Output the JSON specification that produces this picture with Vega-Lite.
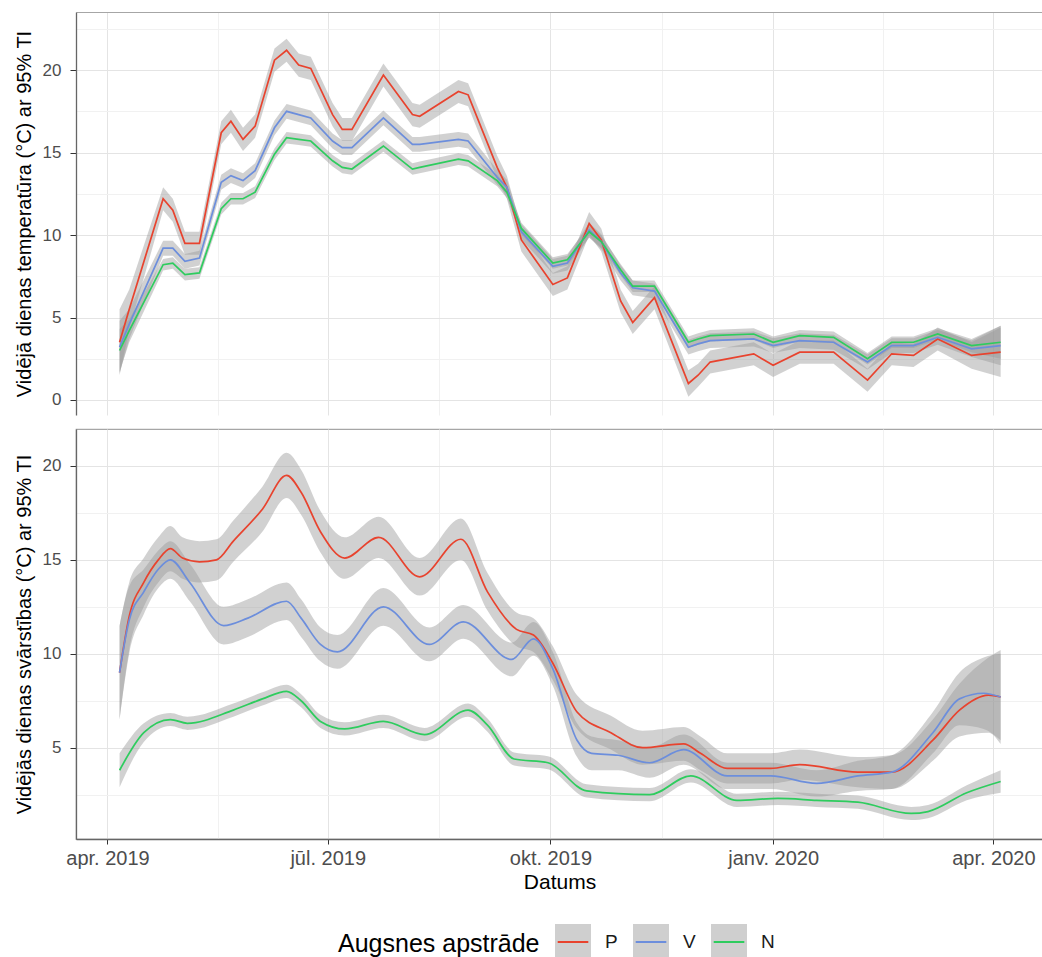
{
  "$schema": "https://vega.github.io/schema/vega-lite/v6.json",
  "padding": {"left": 13, "top": 12, "right": 0, "bottom": 0},
  "background": "white",
  "spacing": 13,
  "config": {
    "font": "Liberation Sans",
    "view": {"stroke": "#a6a6a6", "strokeWidth": 1.2},
    "axis": {"labelFont": "Liberation Sans", "titleFont": "Liberation Sans", "labelColor": "#4d4d4d", "titleColor": "#000000", "titleFontWeight": "normal", "tickColor": "#333333", "domainColor": "#666666", "domainWidth": 1.3},
    "axisY": {"labelFontSize": 17, "titleFontSize": 20, "tickSize": 6, "labelPadding": 9, "titlePadding": 8},
    "axisX": {"labelFontSize": 20, "titleFontSize": 21, "tickSize": 5, "labelPadding": 4, "titlePadding": 3},
    "legend": {
      "direction": "horizontal", "titleOrient": "left",
      "titleFont": "Liberation Sans", "titleFontSize": 25, "titleFontWeight": "normal", "titleColor": "#000000", "titlePadding": 14, "titleLimit": 500,
      "labelFont": "Liberation Sans", "labelFontSize": 19, "labelColor": "#1a1a1a", "labelOffset": 13,
      "symbolType": "M-0.85,0H0.85H1V-1H-1V1H1V0", "symbolSize": 1296, "symbolFillColor": "#cfcfcf", "symbolStrokeWidth": 2, "symbolDash": [30.6, 400],
      "columnPadding": 11
    }
  },
  "resolve": {"scale": {"color": "shared"}},
  "datasets": {
    "top": [
      {"d":"2019-04-06","g":"P","m":3.5,"lo":1.5,"hi":5.5},
      {"d":"2019-04-10","g":"P","m":5.5,"lo":4.3,"hi":6.7},
      {"d":"2019-04-24","g":"P","m":12.2,"lo":11.5,"hi":12.9},
      {"d":"2019-04-28","g":"P","m":11.5,"lo":10.8,"hi":12.2},
      {"d":"2019-05-03","g":"P","m":9.5,"lo":8.8,"hi":10.2},
      {"d":"2019-05-09","g":"P","m":9.5,"lo":8.8,"hi":10.2},
      {"d":"2019-05-18","g":"P","m":16.2,"lo":15.5,"hi":16.9},
      {"d":"2019-05-22","g":"P","m":16.9,"lo":16.2,"hi":17.6},
      {"d":"2019-05-27","g":"P","m":15.8,"lo":15.1,"hi":16.5},
      {"d":"2019-06-01","g":"P","m":16.6,"lo":15.9,"hi":17.3},
      {"d":"2019-06-09","g":"P","m":20.6,"lo":19.9,"hi":21.3},
      {"d":"2019-06-14","g":"P","m":21.2,"lo":20.5,"hi":21.9},
      {"d":"2019-06-19","g":"P","m":20.3,"lo":19.6,"hi":21.0},
      {"d":"2019-06-24","g":"P","m":20.1,"lo":19.4,"hi":20.8},
      {"d":"2019-07-03","g":"P","m":17.3,"lo":16.6,"hi":18.0},
      {"d":"2019-07-07","g":"P","m":16.4,"lo":15.7,"hi":17.1},
      {"d":"2019-07-11","g":"P","m":16.4,"lo":15.7,"hi":17.1},
      {"d":"2019-07-24","g":"P","m":19.7,"lo":19.0,"hi":20.4},
      {"d":"2019-08-05","g":"P","m":17.3,"lo":16.6,"hi":18.0},
      {"d":"2019-08-08","g":"P","m":17.2,"lo":16.5,"hi":17.9},
      {"d":"2019-08-24","g":"P","m":18.7,"lo":18.0,"hi":19.4},
      {"d":"2019-08-28","g":"P","m":18.5,"lo":17.8,"hi":19.2},
      {"d":"2019-09-09","g":"P","m":14.1,"lo":13.4,"hi":14.8},
      {"d":"2019-09-13","g":"P","m":12.9,"lo":12.2,"hi":13.6},
      {"d":"2019-09-19","g":"P","m":9.7,"lo":9.0,"hi":10.4},
      {"d":"2019-10-02","g":"P","m":7.0,"lo":6.3,"hi":7.7},
      {"d":"2019-10-08","g":"P","m":7.4,"lo":6.7,"hi":8.1},
      {"d":"2019-10-17","g":"P","m":10.7,"lo":10.0,"hi":11.4},
      {"d":"2019-10-22","g":"P","m":9.7,"lo":9.0,"hi":10.4},
      {"d":"2019-10-30","g":"P","m":6.0,"lo":5.3,"hi":6.7},
      {"d":"2019-11-04","g":"P","m":4.7,"lo":4.0,"hi":5.4},
      {"d":"2019-11-13","g":"P","m":6.2,"lo":5.5,"hi":6.9},
      {"d":"2019-11-27","g":"P","m":1.0,"lo":0.2,"hi":1.8},
      {"d":"2019-12-01","g":"P","m":1.5,"lo":0.8,"hi":2.2},
      {"d":"2019-12-06","g":"P","m":2.3,"lo":1.6,"hi":3.0},
      {"d":"2019-12-24","g":"P","m":2.8,"lo":2.1,"hi":3.5},
      {"d":"2020-01-01","g":"P","m":2.1,"lo":1.4,"hi":2.8},
      {"d":"2020-01-12","g":"P","m":2.9,"lo":2.2,"hi":3.6},
      {"d":"2020-01-26","g":"P","m":2.9,"lo":2.2,"hi":3.6},
      {"d":"2020-02-09","g":"P","m":1.2,"lo":0.5,"hi":1.9},
      {"d":"2020-02-19","g":"P","m":2.8,"lo":2.1,"hi":3.5},
      {"d":"2020-02-28","g":"P","m":2.7,"lo":2.0,"hi":3.4},
      {"d":"2020-03-09","g":"P","m":3.7,"lo":3.0,"hi":4.4},
      {"d":"2020-03-23","g":"P","m":2.7,"lo":1.9,"hi":3.5},
      {"d":"2020-04-04","g":"P","m":2.9,"lo":1.4,"hi":4.4},
      {"d":"2019-04-06","g":"V","m":3.2,"lo":1.6,"hi":4.8},
      {"d":"2019-04-10","g":"V","m":4.6,"lo":3.7,"hi":5.5},
      {"d":"2019-04-24","g":"V","m":9.2,"lo":8.75,"hi":9.65},
      {"d":"2019-04-28","g":"V","m":9.2,"lo":8.75,"hi":9.65},
      {"d":"2019-05-03","g":"V","m":8.4,"lo":7.95,"hi":8.85},
      {"d":"2019-05-09","g":"V","m":8.6,"lo":8.15,"hi":9.05},
      {"d":"2019-05-18","g":"V","m":13.2,"lo":12.75,"hi":13.65},
      {"d":"2019-05-22","g":"V","m":13.6,"lo":13.15,"hi":14.05},
      {"d":"2019-05-27","g":"V","m":13.3,"lo":12.85,"hi":13.75},
      {"d":"2019-06-01","g":"V","m":13.9,"lo":13.45,"hi":14.35},
      {"d":"2019-06-09","g":"V","m":16.5,"lo":16.05,"hi":16.95},
      {"d":"2019-06-14","g":"V","m":17.5,"lo":17.05,"hi":17.95},
      {"d":"2019-06-19","g":"V","m":17.3,"lo":16.85,"hi":17.75},
      {"d":"2019-06-24","g":"V","m":17.1,"lo":16.65,"hi":17.55},
      {"d":"2019-07-03","g":"V","m":15.7,"lo":15.25,"hi":16.15},
      {"d":"2019-07-07","g":"V","m":15.3,"lo":14.85,"hi":15.75},
      {"d":"2019-07-11","g":"V","m":15.3,"lo":14.85,"hi":15.75},
      {"d":"2019-07-24","g":"V","m":17.1,"lo":16.65,"hi":17.55},
      {"d":"2019-08-05","g":"V","m":15.5,"lo":15.05,"hi":15.95},
      {"d":"2019-08-08","g":"V","m":15.5,"lo":15.05,"hi":15.95},
      {"d":"2019-08-24","g":"V","m":15.8,"lo":15.35,"hi":16.25},
      {"d":"2019-08-28","g":"V","m":15.7,"lo":15.25,"hi":16.15},
      {"d":"2019-09-09","g":"V","m":13.5,"lo":13.05,"hi":13.95},
      {"d":"2019-09-13","g":"V","m":12.9,"lo":12.45,"hi":13.35},
      {"d":"2019-09-19","g":"V","m":10.2,"lo":9.75,"hi":10.65},
      {"d":"2019-10-02","g":"V","m":8.1,"lo":7.65,"hi":8.55},
      {"d":"2019-10-08","g":"V","m":8.3,"lo":7.85,"hi":8.75},
      {"d":"2019-10-17","g":"V","m":10.3,"lo":9.85,"hi":10.75},
      {"d":"2019-10-22","g":"V","m":9.6,"lo":9.15,"hi":10.05},
      {"d":"2019-10-30","g":"V","m":7.7,"lo":7.25,"hi":8.15},
      {"d":"2019-11-04","g":"V","m":6.8,"lo":6.35,"hi":7.25},
      {"d":"2019-11-13","g":"V","m":6.6,"lo":6.15,"hi":7.05},
      {"d":"2019-11-27","g":"V","m":3.2,"lo":2.75,"hi":3.65},
      {"d":"2019-12-01","g":"V","m":3.4,"lo":2.95,"hi":3.85},
      {"d":"2019-12-06","g":"V","m":3.6,"lo":3.15,"hi":4.05},
      {"d":"2019-12-24","g":"V","m":3.7,"lo":3.25,"hi":4.15},
      {"d":"2020-01-01","g":"V","m":3.3,"lo":2.85,"hi":3.75},
      {"d":"2020-01-12","g":"V","m":3.6,"lo":3.15,"hi":4.05},
      {"d":"2020-01-26","g":"V","m":3.5,"lo":3.05,"hi":3.95},
      {"d":"2020-02-09","g":"V","m":2.3,"lo":1.85,"hi":2.75},
      {"d":"2020-02-19","g":"V","m":3.3,"lo":2.85,"hi":3.75},
      {"d":"2020-02-28","g":"V","m":3.3,"lo":2.85,"hi":3.75},
      {"d":"2020-03-09","g":"V","m":3.8,"lo":3.35,"hi":4.25},
      {"d":"2020-03-23","g":"V","m":3.1,"lo":2.6,"hi":3.6},
      {"d":"2020-04-04","g":"V","m":3.3,"lo":2.1,"hi":4.5},
      {"d":"2019-04-06","g":"N","m":3.0,"lo":1.7,"hi":4.3},
      {"d":"2019-04-10","g":"N","m":4.2,"lo":3.5,"hi":4.9},
      {"d":"2019-04-24","g":"N","m":8.2,"lo":7.85,"hi":8.55},
      {"d":"2019-04-28","g":"N","m":8.3,"lo":7.95,"hi":8.65},
      {"d":"2019-05-03","g":"N","m":7.6,"lo":7.25,"hi":7.95},
      {"d":"2019-05-09","g":"N","m":7.7,"lo":7.35,"hi":8.05},
      {"d":"2019-05-18","g":"N","m":11.6,"lo":11.25,"hi":11.95},
      {"d":"2019-05-22","g":"N","m":12.2,"lo":11.85,"hi":12.55},
      {"d":"2019-05-27","g":"N","m":12.2,"lo":11.85,"hi":12.55},
      {"d":"2019-06-01","g":"N","m":12.6,"lo":12.25,"hi":12.95},
      {"d":"2019-06-09","g":"N","m":14.9,"lo":14.55,"hi":15.25},
      {"d":"2019-06-14","g":"N","m":15.9,"lo":15.55,"hi":16.25},
      {"d":"2019-06-19","g":"N","m":15.8,"lo":15.45,"hi":16.15},
      {"d":"2019-06-24","g":"N","m":15.7,"lo":15.35,"hi":16.05},
      {"d":"2019-07-03","g":"N","m":14.5,"lo":14.15,"hi":14.85},
      {"d":"2019-07-07","g":"N","m":14.1,"lo":13.75,"hi":14.45},
      {"d":"2019-07-11","g":"N","m":14.0,"lo":13.65,"hi":14.35},
      {"d":"2019-07-24","g":"N","m":15.4,"lo":15.05,"hi":15.75},
      {"d":"2019-08-05","g":"N","m":14.0,"lo":13.65,"hi":14.35},
      {"d":"2019-08-08","g":"N","m":14.1,"lo":13.75,"hi":14.45},
      {"d":"2019-08-24","g":"N","m":14.6,"lo":14.25,"hi":14.95},
      {"d":"2019-08-28","g":"N","m":14.5,"lo":14.15,"hi":14.85},
      {"d":"2019-09-09","g":"N","m":13.3,"lo":12.95,"hi":13.65},
      {"d":"2019-09-13","g":"N","m":12.6,"lo":12.25,"hi":12.95},
      {"d":"2019-09-19","g":"N","m":10.4,"lo":10.05,"hi":10.75},
      {"d":"2019-10-02","g":"N","m":8.3,"lo":7.95,"hi":8.65},
      {"d":"2019-10-08","g":"N","m":8.5,"lo":8.15,"hi":8.85},
      {"d":"2019-10-17","g":"N","m":10.2,"lo":9.85,"hi":10.55},
      {"d":"2019-10-22","g":"N","m":9.6,"lo":9.25,"hi":9.95},
      {"d":"2019-10-30","g":"N","m":7.9,"lo":7.55,"hi":8.25},
      {"d":"2019-11-04","g":"N","m":6.9,"lo":6.55,"hi":7.25},
      {"d":"2019-11-13","g":"N","m":6.9,"lo":6.55,"hi":7.25},
      {"d":"2019-11-27","g":"N","m":3.5,"lo":3.15,"hi":3.85},
      {"d":"2019-12-01","g":"N","m":3.7,"lo":3.35,"hi":4.05},
      {"d":"2019-12-06","g":"N","m":3.9,"lo":3.55,"hi":4.25},
      {"d":"2019-12-24","g":"N","m":4.0,"lo":3.65,"hi":4.35},
      {"d":"2020-01-01","g":"N","m":3.5,"lo":3.15,"hi":3.85},
      {"d":"2020-01-12","g":"N","m":3.9,"lo":3.55,"hi":4.25},
      {"d":"2020-01-26","g":"N","m":3.8,"lo":3.45,"hi":4.15},
      {"d":"2020-02-09","g":"N","m":2.5,"lo":2.15,"hi":2.85},
      {"d":"2020-02-19","g":"N","m":3.5,"lo":3.15,"hi":3.85},
      {"d":"2020-02-28","g":"N","m":3.5,"lo":3.15,"hi":3.85},
      {"d":"2020-03-09","g":"N","m":4.0,"lo":3.65,"hi":4.35},
      {"d":"2020-03-23","g":"N","m":3.3,"lo":2.9,"hi":3.7},
      {"d":"2020-04-04","g":"N","m":3.5,"lo":2.5,"hi":4.5}
    ],
    "bot": [
      {"d":"2019-04-06","g":"P","m":9.0,"lo":6.5,"hi":11.5},
      {"d":"2019-04-10","g":"P","m":12.0,"lo":10.2,"hi":13.8},
      {"d":"2019-04-16","g":"P","m":13.8,"lo":12.5,"hi":15.1},
      {"d":"2019-04-22","g":"P","m":15.0,"lo":13.8,"hi":16.2},
      {"d":"2019-04-27","g":"P","m":15.6,"lo":14.4,"hi":16.8},
      {"d":"2019-05-02","g":"P","m":15.1,"lo":14.0,"hi":16.2},
      {"d":"2019-05-09","g":"P","m":14.9,"lo":13.8,"hi":16.0},
      {"d":"2019-05-16","g":"P","m":15.0,"lo":13.9,"hi":16.1},
      {"d":"2019-05-23","g":"P","m":16.0,"lo":14.9,"hi":17.1},
      {"d":"2019-06-04","g":"P","m":17.7,"lo":16.5,"hi":18.9},
      {"d":"2019-06-14","g":"P","m":19.5,"lo":18.3,"hi":20.7},
      {"d":"2019-06-20","g":"P","m":18.6,"lo":17.4,"hi":19.8},
      {"d":"2019-06-28","g":"P","m":16.5,"lo":15.4,"hi":17.6},
      {"d":"2019-07-08","g":"P","m":15.1,"lo":14.0,"hi":16.2},
      {"d":"2019-07-22","g":"P","m":16.2,"lo":15.1,"hi":17.3},
      {"d":"2019-08-08","g":"P","m":14.1,"lo":13.1,"hi":15.1},
      {"d":"2019-08-25","g":"P","m":16.1,"lo":15.0,"hi":17.2},
      {"d":"2019-09-05","g":"P","m":13.3,"lo":12.3,"hi":14.3},
      {"d":"2019-09-17","g":"P","m":11.3,"lo":10.4,"hi":12.2},
      {"d":"2019-09-24","g":"P","m":11.0,"lo":10.1,"hi":11.9},
      {"d":"2019-10-02","g":"P","m":9.5,"lo":8.6,"hi":10.4},
      {"d":"2019-10-12","g":"P","m":6.9,"lo":6.0,"hi":7.8},
      {"d":"2019-10-26","g":"P","m":5.8,"lo":4.9,"hi":6.7},
      {"d":"2019-11-08","g":"P","m":5.0,"lo":4.1,"hi":5.9},
      {"d":"2019-11-25","g":"P","m":5.2,"lo":4.3,"hi":6.1},
      {"d":"2019-12-02","g":"P","m":4.7,"lo":3.8,"hi":5.6},
      {"d":"2019-12-13","g":"P","m":3.9,"lo":3.1,"hi":4.7},
      {"d":"2019-12-31","g":"P","m":3.9,"lo":3.1,"hi":4.7},
      {"d":"2020-01-12","g":"P","m":4.1,"lo":3.3,"hi":4.9},
      {"d":"2020-02-05","g":"P","m":3.7,"lo":2.9,"hi":4.5},
      {"d":"2020-02-19","g":"P","m":3.7,"lo":2.8,"hi":4.6},
      {"d":"2020-03-07","g":"P","m":5.4,"lo":4.3,"hi":6.5},
      {"d":"2020-03-18","g":"P","m":7.0,"lo":5.6,"hi":8.4},
      {"d":"2020-03-30","g":"P","m":7.8,"lo":5.8,"hi":9.8},
      {"d":"2020-04-04","g":"P","m":7.7,"lo":5.2,"hi":10.2},
      {"d":"2019-04-06","g":"V","m":9.0,"lo":6.5,"hi":11.5},
      {"d":"2019-04-10","g":"V","m":11.8,"lo":10.0,"hi":13.6},
      {"d":"2019-04-16","g":"V","m":13.3,"lo":12.1,"hi":14.5},
      {"d":"2019-04-22","g":"V","m":14.5,"lo":13.5,"hi":15.5},
      {"d":"2019-04-27","g":"V","m":15.0,"lo":14.0,"hi":16.0},
      {"d":"2019-05-05","g":"V","m":13.8,"lo":12.8,"hi":14.8},
      {"d":"2019-05-19","g":"V","m":11.5,"lo":10.5,"hi":12.5},
      {"d":"2019-05-29","g":"V","m":11.9,"lo":10.9,"hi":12.9},
      {"d":"2019-06-14","g":"V","m":12.8,"lo":11.8,"hi":13.8},
      {"d":"2019-06-20","g":"V","m":11.9,"lo":10.9,"hi":12.9},
      {"d":"2019-06-28","g":"V","m":10.5,"lo":9.6,"hi":11.4},
      {"d":"2019-07-05","g":"V","m":10.1,"lo":9.2,"hi":11.0},
      {"d":"2019-07-24","g":"V","m":12.5,"lo":11.5,"hi":13.5},
      {"d":"2019-08-12","g":"V","m":10.5,"lo":9.6,"hi":11.4},
      {"d":"2019-08-26","g":"V","m":11.7,"lo":10.8,"hi":12.6},
      {"d":"2019-09-15","g":"V","m":9.7,"lo":8.8,"hi":10.6},
      {"d":"2019-09-24","g":"V","m":10.8,"lo":9.9,"hi":11.7},
      {"d":"2019-10-02","g":"V","m":9.2,"lo":8.3,"hi":10.1},
      {"d":"2019-10-12","g":"V","m":5.4,"lo":4.5,"hi":6.3},
      {"d":"2019-10-18","g":"V","m":4.7,"lo":3.8,"hi":5.6},
      {"d":"2019-10-29","g":"V","m":4.6,"lo":3.8,"hi":5.4},
      {"d":"2019-11-11","g":"V","m":4.2,"lo":3.4,"hi":5.0},
      {"d":"2019-11-25","g":"V","m":4.9,"lo":4.1,"hi":5.7},
      {"d":"2019-12-13","g":"V","m":3.5,"lo":2.8,"hi":4.2},
      {"d":"2019-12-31","g":"V","m":3.5,"lo":2.8,"hi":4.2},
      {"d":"2020-01-19","g":"V","m":3.1,"lo":2.4,"hi":3.8},
      {"d":"2020-02-05","g":"V","m":3.5,"lo":2.7,"hi":4.3},
      {"d":"2020-02-19","g":"V","m":3.7,"lo":2.8,"hi":4.6},
      {"d":"2020-03-07","g":"V","m":5.8,"lo":4.7,"hi":6.9},
      {"d":"2020-03-18","g":"V","m":7.6,"lo":6.2,"hi":9.0},
      {"d":"2020-03-28","g":"V","m":7.9,"lo":6.0,"hi":9.8},
      {"d":"2020-04-04","g":"V","m":7.7,"lo":5.4,"hi":10.0},
      {"d":"2019-04-06","g":"N","m":3.8,"lo":2.9,"hi":4.7},
      {"d":"2019-04-16","g":"N","m":5.8,"lo":5.3,"hi":6.3},
      {"d":"2019-04-27","g":"N","m":6.5,"lo":6.15,"hi":6.85},
      {"d":"2019-05-04","g":"N","m":6.3,"lo":5.95,"hi":6.65},
      {"d":"2019-05-23","g":"N","m":7.0,"lo":6.65,"hi":7.35},
      {"d":"2019-06-04","g":"N","m":7.6,"lo":7.25,"hi":7.95},
      {"d":"2019-06-14","g":"N","m":8.0,"lo":7.65,"hi":8.35},
      {"d":"2019-06-20","g":"N","m":7.5,"lo":7.15,"hi":7.85},
      {"d":"2019-06-28","g":"N","m":6.4,"lo":6.05,"hi":6.75},
      {"d":"2019-07-08","g":"N","m":6.0,"lo":5.65,"hi":6.35},
      {"d":"2019-07-24","g":"N","m":6.4,"lo":6.05,"hi":6.75},
      {"d":"2019-08-10","g":"N","m":5.7,"lo":5.35,"hi":6.05},
      {"d":"2019-08-28","g":"N","m":7.0,"lo":6.65,"hi":7.35},
      {"d":"2019-09-05","g":"N","m":6.2,"lo":5.85,"hi":6.55},
      {"d":"2019-09-16","g":"N","m":4.4,"lo":4.05,"hi":4.75},
      {"d":"2019-09-30","g":"N","m":4.2,"lo":3.85,"hi":4.55},
      {"d":"2019-10-16","g":"N","m":2.7,"lo":2.35,"hi":3.05},
      {"d":"2019-11-11","g":"N","m":2.5,"lo":2.15,"hi":2.85},
      {"d":"2019-11-28","g":"N","m":3.5,"lo":3.15,"hi":3.85},
      {"d":"2019-12-17","g":"N","m":2.2,"lo":1.85,"hi":2.55},
      {"d":"2020-01-03","g":"N","m":2.3,"lo":1.95,"hi":2.65},
      {"d":"2020-01-19","g":"N","m":2.2,"lo":1.85,"hi":2.55},
      {"d":"2020-02-05","g":"N","m":2.1,"lo":1.75,"hi":2.45},
      {"d":"2020-02-27","g":"N","m":1.5,"lo":1.15,"hi":1.85},
      {"d":"2020-03-05","g":"N","m":1.6,"lo":1.25,"hi":1.95},
      {"d":"2020-03-21","g":"N","m":2.6,"lo":2.2,"hi":3.0},
      {"d":"2020-04-04","g":"N","m":3.2,"lo":2.6,"hi":3.8}
    ]
  },
  "vconcat": [
    {
      "width": 967,
      "height": 403,
      "view": {"stroke": null},
      "data": {"name": "top"},
      "encoding": {
        "x": {
          "field": "d", "type": "temporal",
          "scale": {"domain": [{"year": 2019, "month": 3, "date": 19}, {"year": 2020, "month": 4, "date": 21, "hours": 12}], "nice": false},
          "axis": {
            "orient": "top", "title": null, "labels": false, "ticks": false,
            "domain": true, "domainColor": "#a6a6a6", "domainWidth": 1.2, "grid": true,
            "values": [
              {"year": 2019, "month": 4, "date": 1}, {"year": 2019, "month": 5, "date": 16, "hours": 12},
              {"year": 2019, "month": 7, "date": 1}, {"year": 2019, "month": 8, "date": 16},
              {"year": 2019, "month": 10, "date": 1}, {"year": 2019, "month": 11, "date": 16},
              {"year": 2020, "month": 1, "date": 1}, {"year": 2020, "month": 2, "date": 15, "hours": 12},
              {"year": 2020, "month": 4, "date": 1}
            ],
            "gridColor": {"condition": {"test": "date(datum.value) !== 1", "value": "#f1f1f1"}, "value": "#e4e4e4"}
          }
        }
      },
      "layer": [
        {
          "mark": {"type": "area", "fill": "#999999", "opacity": 0.45},
          "encoding": {
            "y": {
              "field": "lo", "type": "quantitative",
              "title": "Vidējā dienas temperatūra (°C) ar 95% TI",
              "scale": {"domain": [-0.91, 23.52], "nice": false, "zero": false},
              "axis": {
                "values": [0, 2.5, 5, 7.5, 10, 12.5, 15, 17.5, 20, 22.5],
                "labelExpr": "datum.value % 5 === 0 ? datum.label : ''",
                "tickOpacity": {"condition": {"test": "datum.value % 5 !== 0", "value": 0}, "value": 1},
                "gridColor": {"condition": {"test": "datum.value % 5 !== 0", "value": "#f1f1f1"}, "value": "#e4e4e4"}
              }
            },
            "y2": {"field": "hi"},
            "detail": {"field": "g"}
          }
        },
        {
          "mark": {"type": "line", "strokeWidth": 1.7},
          "encoding": {
            "y": {"field": "m", "type": "quantitative", "title": "Vidējā dienas temperatūra (°C) ar 95% TI"},
            "color": {
              "field": "g", "type": "nominal", "title": "Augsnes apstrāde",
              "scale": {"domain": ["P", "V", "N"], "range": ["#E8432E", "#6C8EDC", "#2ECC5E"]},
              "legend": {"orient": "none", "legendX": 262, "legendY": 911, "direction": "horizontal"}
            }
          }
        }
      ]
    },
    {
      "width": 967,
      "height": 410,
      "data": {"name": "bot"},
      "encoding": {
        "x": {
          "field": "d", "type": "temporal",
          "scale": {"domain": [{"year": 2019, "month": 3, "date": 19}, {"year": 2020, "month": 4, "date": 21, "hours": 12}], "nice": false},
          "axis": {
            "orient": "bottom", "title": "Datums", "grid": true,
            "values": [
              {"year": 2019, "month": 4, "date": 1}, {"year": 2019, "month": 5, "date": 16, "hours": 12},
              {"year": 2019, "month": 7, "date": 1}, {"year": 2019, "month": 8, "date": 16},
              {"year": 2019, "month": 10, "date": 1}, {"year": 2019, "month": 11, "date": 16},
              {"year": 2020, "month": 1, "date": 1}, {"year": 2020, "month": 2, "date": 15, "hours": 12},
              {"year": 2020, "month": 4, "date": 1}
            ],
            "labelExpr": "date(datum.value) !== 1 ? '' : (month(datum.value) === 0 ? 'janv. ' : month(datum.value) === 3 ? 'apr. ' : month(datum.value) === 6 ? 'jūl. ' : 'okt. ') + year(datum.value)",
            "labelOverlap": false, "labelFlush": false,
            "tickOpacity": {"condition": {"test": "date(datum.value) !== 1", "value": 0}, "value": 1},
            "gridColor": {"condition": {"test": "date(datum.value) !== 1", "value": "#f1f1f1"}, "value": "#e4e4e4"}
          }
        }
      },
      "layer": [
        {
          "mark": {"type": "area", "fill": "#999999", "opacity": 0.45, "interpolate": "monotone"},
          "encoding": {
            "y": {
              "field": "lo", "type": "quantitative",
              "title": "Vidējās dienas svārstības (°C) ar 95% TI",
              "scale": {"domain": [0.14, 21.97], "nice": false, "zero": false},
              "axis": {
                "values": [2.5, 5, 7.5, 10, 12.5, 15, 17.5, 20],
                "labelExpr": "datum.value % 5 === 0 ? datum.label : ''",
                "tickOpacity": {"condition": {"test": "datum.value % 5 !== 0", "value": 0}, "value": 1},
                "gridColor": {"condition": {"test": "datum.value % 5 !== 0", "value": "#f1f1f1"}, "value": "#e4e4e4"}
              }
            },
            "y2": {"field": "hi"},
            "detail": {"field": "g"}
          }
        },
        {
          "mark": {"type": "line", "strokeWidth": 1.7, "interpolate": "monotone"},
          "encoding": {
            "y": {"field": "m", "type": "quantitative", "title": "Vidējās dienas svārstības (°C) ar 95% TI"},
            "color": {
              "field": "g", "type": "nominal", "title": "Augsnes apstrāde",
              "scale": {"domain": ["P", "V", "N"], "range": ["#E8432E", "#6C8EDC", "#2ECC5E"]},
              "legend": {"orient": "none", "legendX": 262, "legendY": 911, "direction": "horizontal"}
            }
          }
        }
      ]
    }
  ]
}
